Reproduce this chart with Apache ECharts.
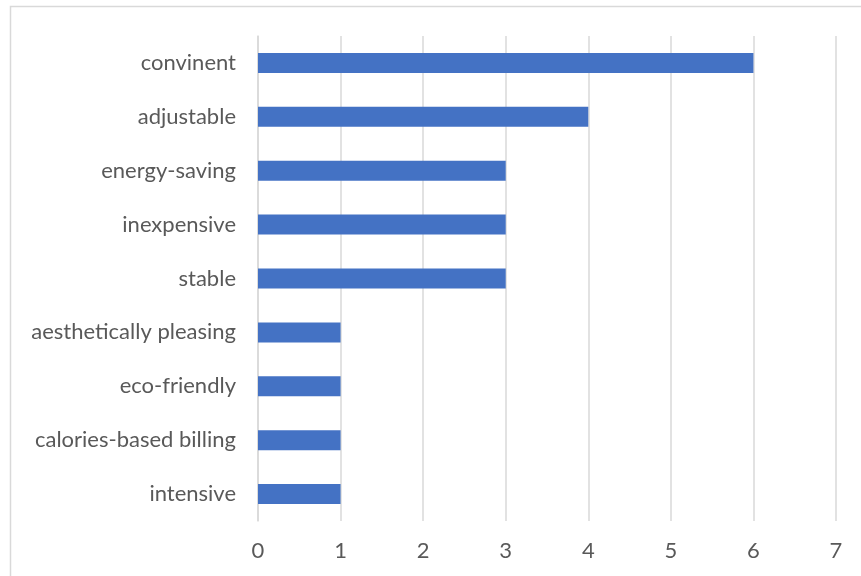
<!DOCTYPE html>
<html>
<head>
<meta charset="utf-8">
<script src="https://cdn.jsdelivr.net/npm/echarts@6/dist/echarts.min.js"></script>
<style>
html, body { margin: 0; padding: 0; background: #fff; }
#chart { width: 861px; height: 576px; }
</style>
</head>
<body>
<div id="chart"></div>
<script>
// Feature mentions, listed top to bottom
const categories = [
  'convinent', 'adjustable', 'energy-saving', 'inexpensive', 'stable',
  'aesthetically pleasing', 'eco-friendly', 'calories-based billing', 'intensive'
];
const counts = [6, 4, 3, 3, 3, 1, 1, 1, 1];
const xTicks = [0, 1, 2, 3, 4, 5, 6, 7];

const chart = echarts.init(document.getElementById('chart'));
const font = 'Lato, Open Sans, sans-serif';

chart.setOption({
  animation: false,
  backgroundColor: '#ffffff',
  graphic: [{
    type: 'rect',
    shape: { x: 10.5, y: 6.5, width: 900, height: 600 },
    style: { fill: 'none', stroke: '#d9d9d9', lineWidth: 1.5 },
    silent: true
  }],
  grid: { left: 258, right: 25, top: 36, bottom: 55 },
  xAxis: {
    type: 'value',
    min: xTicks[0],
    max: xTicks[xTicks.length - 1],
    interval: 1,
    axisLine: { show: false },
    axisTick: { show: false },
    axisLabel: { color: '#595959', fontSize: 22, fontFamily: font, margin: 19 },
    splitLine: { show: true, lineStyle: { color: '#d9d9d9', width: 1.5 } }
  },
  yAxis: {
    type: 'category',
    data: categories,
    inverse: true,
    axisLine: { show: true, lineStyle: { color: '#d9d9d9', width: 1.5 } },
    axisTick: { show: false },
    axisLabel: { color: '#595959', fontSize: 22, fontFamily: font, margin: 22 }
  },
  series: [{
    type: 'bar',
    data: counts,
    barWidth: 20,
    itemStyle: { color: '#4472C4' }
  }]
});
</script>
</body>
</html>
